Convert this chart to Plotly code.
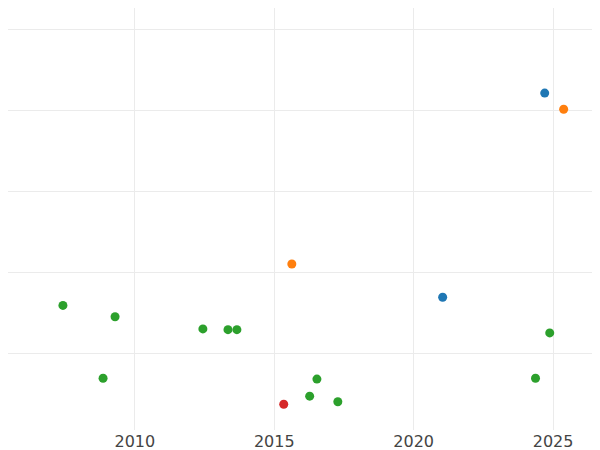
import plotly.graph_objects as go

blue_x = [2024.70, 2021.04]
blue_y = [4.22, 1.70]
orange_x = [2025.38, 2015.63]
orange_y = [4.02, 2.11]
green_x = [2007.42, 2009.29, 2008.86, 2012.44, 2013.34, 2013.66, 2016.53, 2016.27, 2017.28, 2024.37, 2024.88]
green_y = [1.60, 1.46, 0.70, 1.31, 1.30, 1.30, 0.69, 0.48, 0.41, 0.70, 1.26]
red_x = [2015.34]
red_y = [0.38]

fig = go.Figure()
for xs, ys, c in [(blue_x, blue_y, "#1f77b4"), (orange_x, orange_y, "#ff7f0e"),
                  (green_x, green_y, "#2ca02c"), (red_x, red_y, "#d62728")]:
    fig.add_trace(go.Scatter(x=xs, y=ys, mode="markers", marker=dict(color=c, size=9)))

fig.update_layout(
    template="plotly_white", width=600, height=450, showlegend=False,
    margin=dict(l=0, r=0, t=0, b=28, pad=0),
    font=dict(family="DejaVu Sans"),
    xaxis=dict(range=[2005.45, 2026.97], tickvals=[2010, 2015, 2020, 2025], automargin=False,
               tickfont=dict(size=16, color="#444"), zeroline=False, gridcolor="#ebebeb", ticklen=0),
    yaxis=dict(range=[0.062, 5.27], tickvals=[1, 2, 3, 4, 5], showticklabels=False, automargin=False,
               zeroline=False, gridcolor="#ebebeb"),
)
fig.write_html("out.html")
